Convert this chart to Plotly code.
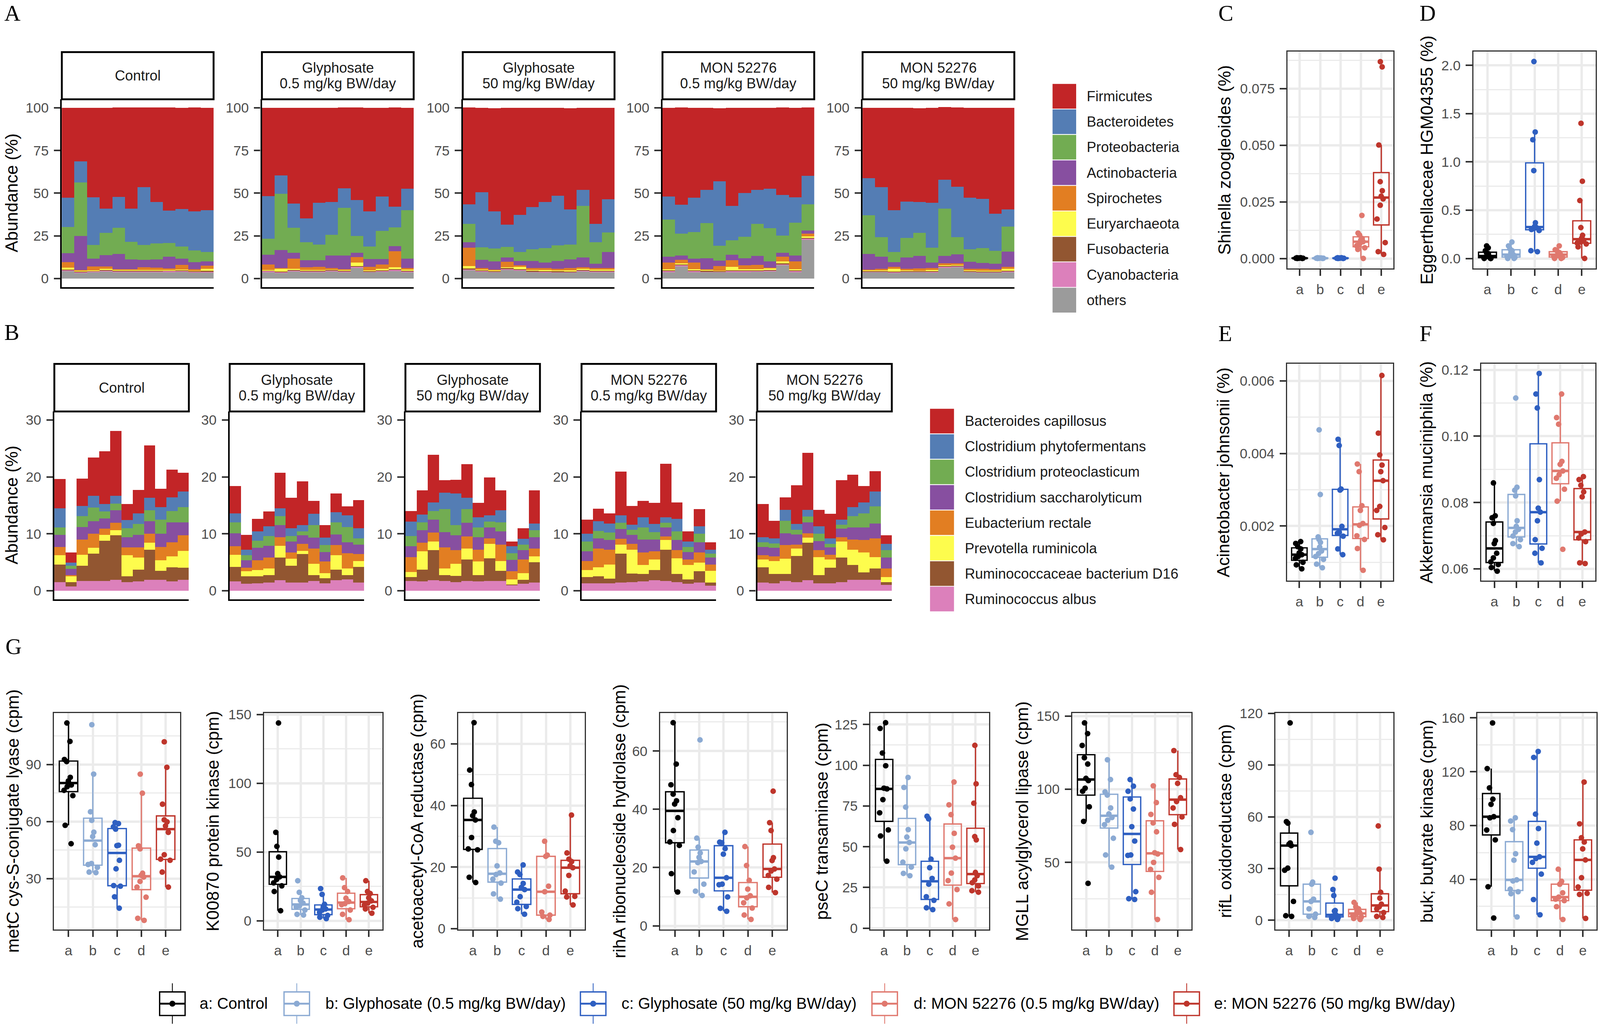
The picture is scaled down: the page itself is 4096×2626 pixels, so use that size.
import plotly.graph_objects as go

# ===================== DATA =====================
FACETS = ["Control", "Glyphosate|0.5 mg/kg BW/day", "Glyphosate|50 mg/kg BW/day",
          "MON 52276|0.5 mg/kg BW/day", "MON 52276|50 mg/kg BW/day"]
SAMPLES = list(range(1, 13))   # 12 animals per group

# ---- Panel A: phylum relative abundance (%), 5 groups x 12 samples ----
PHYLA = ["Firmicutes", "Bacteroidetes", "Proteobacteria", "Actinobacteria", "Spirochetes",
         "Euryarchaeota", "Fusobacteria", "Cyanobacteria", "others"]
firmicutes = [
    52.6, 31.5, 52.4, 58.9, 52.4, 59.3, 46.7, 55.4, 60.5, 59.2, 60.7, 60.1,
    51.8, 39.5, 56.0, 64.9, 55.6, 55.0, 47.3, 54.2, 60.5, 51.8, 58.0, 47.4,
    56.7, 49.4, 60.4, 68.4, 62.7, 58.1, 55.1, 51.5, 59.3, 48.1, 67.9, 53.7,
    52.0, 57.1, 52.6, 47.9, 42.9, 57.4, 50.0, 47.9, 47.4, 51.2, 52.4, 40.1,
    41.1, 46.4, 60.1, 54.8, 55.0, 55.7, 42.6, 46.4, 52.6, 53.2, 62.1, 59.5]
bacteroidetes = [
    17.3, 12.2, 28.0, 14.3, 18.1, 19.3, 33.7, 24.1, 19.0, 22.0, 23.0, 24.4,
    25.0, 10.7, 14.2, 13.9, 24.5, 19.4, 11.4, 21.2, 20.7, 20.2, 12.2, 12.5,
    11.4, 32.3, 21.8, 13.1, 21.6, 24.7, 27.1, 29.1, 20.7, 9.5, 10.8, 19.4,
    13.5, 16.9, 20.3, 19.6, 37.8, 20.2, 25.6, 20.0, 23.1, 23.8, 14.9, 16.7,
    21.8, 29.2, 24.4, 21.4, 18.0, 26.2, 16.9, 29.6, 30.1, 28.9, 21.8, 10.1]
proteobacteria = [
    15.2, 31.5, 7.9, 13.1, 15.2, 10.3, 8.9, 9.4, 8.0, 7.1, 6.8, 5.6,
    9.2, 33.1, 14.7, 10.5, 9.2, 12.1, 28.0, 9.7, 7.3, 16.5, 11.0, 28.4,
    10.8, 7.4, 7.7, 6.2, 5.4, 6.9, 8.6, 9.0, 8.6, 30.1, 12.5, 11.4,
    21.8, 12.7, 15.6, 20.6, 8.6, 8.4, 12.5, 18.8, 19.4, 10.1, 19.2, 15.5,
    22.6, 11.5, 6.0, 11.3, 13.5, 8.9, 27.8, 10.0, 7.5, 8.7, 7.4, 14.7]
actinobacteria = [
    5.4, 19.9, 4.6, 6.6, 8.9, 5.7, 4.2, 4.9, 6.8, 3.7, 4.1, 2.4,
    5.9, 10.5, 3.4, 4.2, 3.9, 7.3, 7.9, 2.6, 4.7, 3.2, 3.0, 5.4,
    3.2, 4.7, 4.7, 2.6, 2.6, 4.1, 3.2, 4.6, 5.0, 5.7, 2.6, 9.5,
    3.4, 2.6, 2.2, 6.3, 3.2, 3.3, 4.2, 5.2, 3.6, 2.4, 3.6, 1.7,
    9.1, 7.2, 2.7, 6.8, 7.5, 3.2, 4.4, 5.4, 4.1, 3.5, 3.3, 8.9]
spirochetes = [
    3.2, 0.3, 2.3, 1.4, 0.6, 0.6, 1.7, 1.4, 0.9, 2.6, 0.9, 1.8,
    3.1, 0.5, 6.0, 1.5, 1.8, 0.8, 0.6, 3.1, 2.0, 2.6, 9.3, 0.9,
    10.8, 1.1, 0.5, 3.1, 0.8, 1.1, 1.1, 0.9, 1.5, 1.0, 1.0, 0.9,
    3.9, 2.1, 3.9, 0.6, 2.7, 3.9, 2.3, 2.5, 0.5, 2.6, 4.5, 1.6,
    0.6, 0.9, 1.2, 0.9, 1.2, 1.0, 1.2, 0.9, 0.9, 1.2, 0.9, 1.1]
euryarchaeota = [
    1.1, 0.5, 0.3, 0.6, 0.3, 0.3, 0.3, 0.3, 0.3, 0.6, 0.3, 1.3,
    0.3, 1.5, 0.6, 0.5, 0.3, 0.3, 0.3, 2.1, 0.3, 0.8, 1.1, 0.7,
    1.3, 0.3, 0.4, 0.6, 1.3, 0.6, 0.6, 0.6, 0.6, 0.6, 0.6, 0.6,
    0.7, 0.6, 0.7, 0.5, 0.3, 2.1, 0.7, 0.7, 0.9, 1.3, 0.7, 0.9,
    0.3, 0.3, 1.5, 0.3, 0.3, 0.7, 0.3, 0.3, 0.3, 0.3, 0.3, 1.2]
fusobacteria = [
    0.5, 0.4, 0.5, 0.5, 0.4, 0.4, 0.5, 0.4, 0.5, 0.5, 0.4, 0.5,
    0.5, 0.5, 0.4, 0.5, 0.4, 0.5, 0.4, 0.6, 0.4, 0.5, 0.6, 0.4,
    0.6, 0.4, 0.4, 0.5, 0.5, 0.4, 0.5, 0.4, 0.4, 0.5, 0.4, 0.5,
    0.5, 0.6, 0.5, 0.4, 0.4, 0.5, 0.5, 0.4, 0.5, 0.6, 0.5, 0.6,
    0.4, 0.5, 0.5, 0.4, 0.4, 0.5, 0.6, 0.6, 0.4, 0.4, 0.4, 0.5]
cyanobacteria = [
    0.4, 0.5, 0.4, 0.3, 0.4, 0.4, 0.3, 0.4, 0.4, 0.3, 0.4, 0.4,
    0.4, 0.3, 0.4, 0.4, 0.4, 0.3, 0.4, 0.5, 0.4, 0.3, 0.4, 0.4,
    0.4, 0.4, 0.3, 0.4, 0.3, 0.4, 0.4, 0.4, 0.3, 0.4, 0.4, 0.4,
    0.4, 0.5, 0.4, 0.4, 0.3, 0.4, 0.4, 0.4, 0.3, 0.5, 0.4, 0.6,
    0.4, 0.3, 0.4, 0.4, 0.3, 0.4, 0.5, 0.5, 0.4, 0.3, 0.4, 0.4]
others = [
    4.3, 3.2, 3.6, 4.2, 3.8, 3.8, 3.8, 3.8, 3.8, 3.9, 3.5, 3.5,
    3.8, 3.3, 4.2, 3.6, 3.8, 4.2, 3.8, 6.2, 3.6, 4.0, 4.5, 3.8,
    4.9, 4.0, 3.6, 5.1, 4.7, 3.6, 3.4, 3.4, 3.4, 4.1, 3.7, 3.6,
    3.8, 7.1, 3.8, 3.6, 3.6, 3.8, 3.8, 4.0, 4.2, 7.7, 3.8, 22.6,
    3.6, 3.6, 3.2, 3.6, 3.6, 3.4, 6.2, 6.5, 3.6, 3.4, 3.4, 3.6]

# ---- Panel B: species relative abundance (%) ----
SPECIES = ["Bacteroides capillosus", "Clostridium phytofermentans", "Clostridium proteoclasticum",
           "Clostridium saccharolyticum", "Eubacterium rectale", "Prevotella ruminicola",
           "Ruminococcaceae bacterium D16", "Ruminococcus albus"]
b_capillosus = [
    5.1, 1.8, 4.8, 6.7, 9.3, 11.4, 2.8, 4.1, 9.2, 3.2, 4.9, 3.3,
    4.8, 2.6, 2.2, 2.6, 6.2, 5.3, 7.7, 2.3, 2.2, 3.3, 1.6, 4.9,
    1.9, 4.2, 8.4, 2.2, 2.4, 5.9, 2.5, 6.7, 3.5, 0.8, 1.9, 5.8,
    2.5, 2.2, 1.8, 7.7, 3.3, 2.9, 3.7, 9.4, 2.9, 1.8, 3.0, 1.3,
    5.8, 3.1, 2.2, 6.8, 10.0, 2.9, 4.3, 6.9, 5.7, 2.9, 3.6, 1.5]
c_phytofermentans = [
    3.4, 0.5, 1.8, 2.1, 1.3, 1.4, 1.4, 1.9, 2.2, 2.2, 2.4, 2.7,
    1.6, 1.0, 1.6, 1.7, 1.4, 1.4, 1.1, 2.0, 1.3, 1.8, 2.0, 1.8,
    2.5, 1.4, 1.5, 2.9, 5.6, 2.0, 1.8, 1.1, 2.1, 1.2, 1.0, 1.2,
    1.4, 1.7, 1.6, 1.3, 0.9, 1.8, 1.4, 1.0, 2.2, 0.9, 1.3, 0.7,
    0.9, 0.9, 1.9, 1.0, 1.2, 1.3, 1.0, 0.9, 1.6, 1.9, 2.6, 1.1]
c_proteoclasticum = [
    1.3, 0.6, 1.9, 2.4, 1.2, 1.2, 1.6, 1.9, 1.9, 2.5, 2.0, 2.7,
    1.9, 0.9, 1.3, 1.7, 1.6, 1.0, 0.7, 2.2, 1.2, 2.1, 2.7, 1.1,
    1.8, 1.4, 1.5, 4.0, 1.8, 2.4, 1.7, 1.0, 1.6, 1.2, 1.0, 1.2,
    1.7, 1.3, 1.3, 1.1, 0.9, 2.1, 1.3, 0.8, 1.5, 0.9, 1.5, 0.7,
    0.8, 0.8, 2.2, 0.8, 1.0, 1.3, 0.6, 0.7, 2.0, 2.5, 3.0, 1.3]
c_saccharolyticum = [
    2.1, 1.1, 2.2, 2.2, 1.8, 2.2, 1.8, 2.2, 2.2, 2.3, 3.5, 2.3,
    2.3, 1.3, 2.2, 2.1, 2.1, 1.9, 1.5, 1.9, 1.7, 1.9, 1.9, 1.7,
    1.9, 2.2, 2.3, 2.7, 2.6, 2.4, 2.2, 1.9, 2.3, 2.0, 1.6, 2.0,
    1.7, 1.8, 1.7, 1.7, 1.6, 2.3, 2.1, 1.6, 1.8, 1.3, 1.8, 1.2,
    1.5, 1.5, 2.1, 1.8, 1.9, 1.6, 1.3, 1.5, 2.1, 2.2, 2.6, 1.9]
e_rectale = [
    1.5, 0.2, 2.7, 2.5, 1.1, 1.3, 1.4, 1.8, 1.6, 2.4, 2.5, 2.7,
    1.5, 0.6, 1.7, 1.9, 1.5, 1.1, 1.2, 2.7, 2.0, 1.8, 2.7, 1.2,
    2.6, 1.5, 1.6, 3.7, 2.4, 2.1, 2.1, 1.0, 2.9, 1.4, 2.4, 1.4,
    1.6, 3.3, 2.6, 1.0, 1.0, 2.2, 1.4, 0.6, 1.4, 1.0, 1.8, 1.1,
    0.7, 0.8, 2.4, 0.7, 0.8, 1.2, 0.8, 0.8, 1.8, 2.2, 3.3, 1.5]
p_ruminicola = [
    1.6, 1.0, 1.9, 1.0, 1.0, 0.9, 3.7, 2.1, 1.2, 1.8, 1.9, 3.0,
    2.1, 0.9, 1.1, 1.2, 2.1, 1.2, 0.6, 2.0, 0.9, 2.5, 1.2, 1.0,
    0.9, 3.2, 1.5, 1.2, 2.1, 1.9, 2.4, 2.5, 1.7, 0.9, 1.2, 1.0,
    1.2, 1.6, 2.5, 1.6, 4.2, 1.6, 1.9, 1.7, 2.8, 2.5, 1.5, 2.1,
    1.4, 2.3, 2.7, 1.3, 0.9, 3.2, 1.5, 2.8, 2.7, 3.5, 2.0, 0.9]
rumino_d16 = [
    3.1, 0.8, 2.7, 4.8, 7.1, 7.8, 1.0, 2.1, 5.3, 1.6, 2.5, 2.1,
    2.6, 1.3, 1.2, 1.3, 4.0, 3.0, 5.0, 1.0, 0.9, 1.9, 0.7, 2.8,
    0.7, 2.1, 5.3, 1.0, 1.1, 3.8, 1.1, 4.0, 1.8, 0.1, 0.7, 3.6,
    1.1, 1.2, 0.8, 5.1, 1.5, 1.3, 1.8, 5.5, 1.4, 0.8, 2.0, 0.5,
    2.7, 1.6, 1.2, 4.6, 6.6, 1.4, 2.7, 4.3, 2.6, 1.3, 2.0, 0.5]
r_albus = [
    1.5, 0.7, 1.7, 1.7, 1.7, 1.9, 1.5, 1.6, 1.9, 1.9, 1.6, 1.9,
    1.6, 1.2, 1.3, 1.4, 1.8, 1.4, 1.4, 1.7, 1.3, 1.8, 2.0, 1.4,
    1.7, 1.6, 1.8, 1.7, 1.5, 1.7, 1.6, 1.7, 1.7, 1.0, 1.2, 1.4,
    1.3, 1.3, 1.3, 1.4, 1.5, 1.6, 1.8, 1.7, 1.5, 1.2, 1.4, 0.9,
    1.4, 1.3, 1.7, 1.5, 1.8, 1.3, 1.3, 1.5, 1.9, 1.9, 1.9, 1.0]

# ---- Boxplot panels: groups a-e ----
GROUPS = ["a", "b", "c", "d", "e"]
GROUP_LABELS = ["a: Control", "b: Glyphosate (0.5 mg/kg BW/day)", "c: Glyphosate (50 mg/kg BW/day)",
                "d: MON 52276 (0.5 mg/kg BW/day)", "e: MON 52276 (50 mg/kg BW/day)"]
shinella = {
    "a": [0.0003, 0.0002, 0.0001, 0.0002, 0.0, 0.0001, 0.0003, 0.0001, 0.0002, 0.0, 0.0001],
    "b": [0.0002, 0.0001, 0.0003, 0.0, 0.0001, 0.0002, 0.0001, 0.0, 0.0002, 0.0001],
    "c": [0.0001, 0.0002, 0.0, 0.0003, 0.0001, 0.0002, 0.0, 0.0001, 0.0002, 0.0001, 0.0003],
    "d": [0.019, 0.0112, 0.0103, 0.0088, 0.0081, 0.0074, 0.0065, 0.0056, 0.0047, 0.0040, 0.0],
    "e": [0.0869, 0.0846, 0.0501, 0.0339, 0.0299, 0.0275, 0.0263, 0.0235, 0.0174, 0.007, 0.003, 0.0018]}
eggerthellaceae = {
    "a": [0.13, 0.11, 0.08, 0.06, 0.05, 0.03, 0.02, 0.01, 0.0, 0.0, 0.0, 0.02],
    "b": [0.17, 0.13, 0.10, 0.08, 0.06, 0.04, 0.03, 0.02, 0.0, 0.0, 0.01],
    "c": [2.04, 1.31, 1.23, 0.91, 0.37, 0.33, 0.32, 0.31, 0.30, 0.29, 0.08, 0.07],
    "d": [0.13, 0.09, 0.08, 0.06, 0.05, 0.04, 0.03, 0.02, 0.01, 0.0, 0.0],
    "e": [1.40, 0.80, 0.60, 0.32, 0.24, 0.21, 0.19, 0.17, 0.16, 0.15, 0.12, 0.0]}
acinetobacter = {
    "a": [0.00157, 0.00152, 0.00143, 0.00137, 0.00126, 0.00121, 0.00116, 0.00111, 0.00100, 0.00093, 0.00082],
    "b": [0.00465, 0.00287, 0.00170, 0.00163, 0.00155, 0.00142, 0.00131, 0.00124, 0.00116, 0.00108, 0.00095, 0.00085],
    "c": [0.00439, 0.00422, 0.00302, 0.00299, 0.00199, 0.00183, 0.00180, 0.00172, 0.00137, 0.00121],
    "d": [0.00371, 0.00350, 0.00256, 0.00243, 0.00207, 0.00202, 0.00173, 0.00163, 0.00138, 0.00078],
    "e": [0.00615, 0.00456, 0.00396, 0.00368, 0.00350, 0.00325, 0.00254, 0.00243, 0.00196, 0.00176, 0.00162]}
akkermansia = {
    "a": [0.0859, 0.0760, 0.0754, 0.0737, 0.0685, 0.0676, 0.0647, 0.0633, 0.0621, 0.0613, 0.0604, 0.0593],
    "b": [0.1115, 0.0846, 0.0837, 0.0820, 0.0745, 0.0728, 0.0719, 0.0711, 0.0699, 0.0688, 0.0676, 0.0667],
    "c": [0.1189, 0.1127, 0.1085, 0.0869, 0.0783, 0.0771, 0.0745, 0.0688, 0.0662, 0.0647, 0.0618],
    "d": [0.1127, 0.1056, 0.1036, 0.0924, 0.0915, 0.0895, 0.0884, 0.0873, 0.0840, 0.0804, 0.0659],
    "e": [0.0878, 0.0869, 0.0852, 0.0832, 0.0817, 0.0711, 0.0705, 0.0693, 0.0682, 0.0618, 0.0616]}
metC = {
    "a": [111.8, 102.1, 92.6, 91.5, 83.2, 81.3, 79.2, 78.3, 76.4, 73.6, 58.0, 48.3],
    "b": [110.9, 84.9, 65.1, 60.6, 54.4, 52.1, 47.8, 37.9, 37.4, 35.9, 33.4, 33.1],
    "c": [59.4, 58.9, 57.2, 56.0, 47.5, 47.3, 39.6, 35.1, 26.3, 26.0, 20.4, 14.4],
    "d": [84.9, 74.9, 47.2, 45.6, 32.8, 31.7, 30.8, 28.5, 25.5, 20.2, 9.1, 8.0],
    "e": [101.9, 88.5, 69.1, 60.9, 59.8, 57.7, 54.3, 42.5, 40.2, 39.6, 33.4, 25.5]}
k00870 = {
    "a": [143.8, 64.3, 54.1, 46.3, 34.3, 31.9, 30.1, 27.6, 25.4, 21.3, 7.3],
    "b": [29.1, 20.7, 16.7, 14.8, 12.9, 10.9, 10.1, 7.8, 4.7, 4.2],
    "c": [23.4, 19.2, 12.0, 10.1, 8.6, 7.8, 6.2, 3.9, 2.6, 1.6],
    "d": [31.2, 24.1, 21.3, 16.4, 14.0, 12.5, 11.7, 7.8, 4.7, 0.8],
    "e": [29.1, 21.3, 19.8, 16.7, 14.5, 12.9, 11.4, 9.8, 8.6, 5.5]}
acetoacetyl = {
    "a": [66.9, 51.5, 46.8, 37.9, 36.7, 35.3, 29.6, 25.9, 25.6, 16.7, 15.0],
    "b": [33.0, 28.4, 27.9, 20.4, 18.1, 17.6, 16.1, 14.8, 11.3, 9.6],
    "c": [20.7, 18.4, 17.6, 14.7, 13.4, 12.7, 10.4, 8.6, 7.2, 6.5, 4.7],
    "d": [28.4, 23.9, 23.5, 13.8, 12.0, 5.4, 4.4, 4.0, 3.0],
    "e": [36.9, 24.6, 22.6, 21.8, 20.4, 19.8, 17.3, 12.2, 10.5, 10.3, 7.7]}
rihA = {
    "a": [69.7, 55.5, 48.4, 45.2, 42.9, 41.8, 37.1, 32.7, 28.8, 27.6, 17.9, 11.6],
    "b": [63.8, 30.1, 27.0, 25.0, 23.5, 22.1, 21.7, 18.5, 14.3, 11.9, 10.4],
    "c": [32.1, 28.7, 28.5, 26.5, 24.6, 16.5, 14.3, 14.1, 9.9, 6.0, 5.0],
    "d": [27.2, 20.7, 15.6, 12.6, 10.3, 9.6, 7.9, 6.1, 3.7, 2.2],
    "e": [46.2, 35.4, 32.7, 23.4, 22.4, 19.5, 18.8, 17.3, 16.0, 13.2, 11.4]}
pseC = {
    "a": [126.1, 122.6, 107.5, 99.7, 85.9, 85.5, 78.9, 70.8, 60.3, 56.6, 41.1],
    "b": [92.5, 86.4, 74.3, 60.5, 55.9, 52.6, 48.7, 40.5, 37.5, 33.6, 32.2],
    "c": [68.7, 67.1, 42.4, 37.1, 30.5, 27.0, 19.3, 17.1, 12.5, 11.4],
    "d": [89.7, 75.7, 69.7, 58.2, 49.7, 43.0, 33.8, 29.2, 23.7, 14.9, 5.3],
    "e": [112.2, 88.6, 76.7, 56.2, 54.2, 34.2, 32.2, 29.6, 27.9, 25.9, 23.0, 22.1]}
mgll = {
    "a": [145.3, 138.0, 129.9, 121.5, 117.2, 107.4, 105.9, 100.7, 98.6, 88.0, 78.0, 35.7],
    "b": [120.1, 106.6, 98.2, 96.0, 87.2, 83.1, 80.7, 78.8, 75.8, 66.5, 55.1, 46.8],
    "c": [106.6, 102.1, 98.6, 93.4, 86.5, 74.4, 64.6, 55.1, 54.8, 30.0, 25.2, 24.7],
    "d": [102.3, 90.9, 82.8, 77.0, 70.9, 56.6, 55.8, 50.0, 45.2, 39.8, 29.6, 11.0],
    "e": [126.4, 109.9, 108.0, 104.0, 94.2, 91.6, 87.2, 81.1, 76.0, 58.8]}
rifL = {
    "a": [114.5, 57.2, 56.3, 44.8, 44.1, 43.3, 30.2, 29.0, 10.9, 2.6, 2.2],
    "b": [51.0, 22.1, 20.9, 12.2, 10.9, 6.6, 3.5, 2.2, 1.6],
    "c": [24.4, 17.8, 14.3, 5.6, 5.3, 3.1, 2.5, 2.2, 1.6, 1.0, 0.4],
    "d": [10.3, 7.8, 6.6, 5.3, 4.4, 3.5, 2.6, 1.9, 1.0, 0.4],
    "e": [54.7, 29.6, 16.2, 12.8, 9.3, 7.8, 6.6, 4.4, 2.2, 1.6]}
buk = {
    "a": [156.2, 122.3, 108.0, 99.6, 95.8, 86.6, 85.8, 76.7, 69.4, 34.6, 11.4],
    "b": [85.8, 83.4, 77.0, 59.1, 54.3, 39.7, 38.9, 32.8, 30.9, 29.4, 12.2],
    "c": [135.0, 130.6, 88.5, 77.8, 67.0, 56.8, 55.6, 52.7, 44.0, 25.1, 13.8],
    "d": [47.6, 38.6, 36.5, 30.1, 26.9, 25.4, 24.3, 19.8, 10.3],
    "e": [112.3, 81.3, 71.0, 67.8, 62.7, 54.5, 41.3, 34.4, 29.7, 28.9, 11.1]}

# ===================== STYLE / GEOMETRY =====================
W, H = 4096, 2626
RW, RH = 4270, 2738
S = W / RW
FONT = "Liberation Sans, Arial, Helvetica, sans-serif"
SERIF = "Liberation Serif, Times New Roman, serif"
TAXA_COLORS = ["#C22527", "#547DB4", "#72AC52", "#874FA0", "#E27E22", "#FDFC4D", "#925631", "#DC80BB", "#9B9B9B"]
GROUP_COLORS = ["#000000", "#8BAAD3", "#2E5FC1", "#E0786E", "#BE352B"]
TICK_COL, TEXT_COL, GRID_COL, BORDER_COL = "#333333", "#4D4D4D", "#EBEBEB", "#333333"
CLEAR = "rgba(255,255,255,0)"


def fx(x): return x / RW
def fy(y): return 1 - y / RH
def sz(v): return v * S
def ax_key(kind, n): return f"{kind}axis" + ("" if n == 1 else str(n))
def ax_id(kind, n): return kind + ("" if n == 1 else str(n))


def quantile7(vals, p):
    """R type-7 quantile (as used by ggplot2's boxplot stat)."""
    s = sorted(vals)
    h = (len(s) - 1) * p
    lo = int(h)
    hi = min(lo + 1, len(s) - 1)
    return s[lo] + (h - lo) * (s[hi] - s[lo])


fig = go.Figure()
annotations, shapes = [], []
layout = dict(width=W, height=H, margin=dict(l=0, r=0, t=0, b=0, pad=0), autosize=False,
              paper_bgcolor="white", plot_bgcolor="white",
              barmode="stack", bargap=0, boxmode="overlay", showlegend=False,
              font=dict(family=FONT, color="#000000"))


def text(x, y, s, size, color="#1A1A1A", xanchor="center", yanchor="middle", angle=0, family=FONT, yabs=None):
    annotations.append(dict(x=fx(x), y=fy(y) if yabs is None else yabs, xref="paper", yref="paper", text=s,
                            showarrow=False, font=dict(size=sz(size), color=color, family=family),
                            xanchor=xanchor, yanchor=yanchor, textangle=angle))


def rect(x0, y0, x1, y1, fill="rgba(0,0,0,0)", line="rgba(0,0,0,0)", lw=0):
    shapes.append(dict(type="rect", xref="paper", yref="paper", x0=fx(x0), x1=fx(x1), y0=fy(y1), y1=fy(y0),
                       fillcolor=fill, line=dict(color=line, width=sz(lw)), layer="above"))


def seg(x0, y0, x1, y1, color, lw):
    shapes.append(dict(type="line", xref="paper", yref="paper", x0=fx(x0), x1=fx(x1), y0=fy(y0), y1=fy(y1),
                       line=dict(color=color, width=sz(lw)), layer="above"))


# ---------- stacked bar facets (A and B) ----------
def facet_row(first_n, xs, w, strip_top, strip_bot, panel_bot, yrange, yticks, series, colors):
    for f, x0 in enumerate(xs):
        n = first_n + f
        layout[ax_key("x", n)] = dict(domain=[fx(x0), fx(x0 + w)], range=[0.5, 12.5], anchor=ax_id("y", n),
                                      showticklabels=False, ticks="", showgrid=False, zeroline=False,
                                      showline=True, linecolor="black", linewidth=sz(4.5), automargin=False)
        layout[ax_key("y", n)] = dict(domain=[fy(panel_bot), fy(strip_bot)], range=yrange, anchor=ax_id("x", n),
                                      tickvals=yticks, ticks="outside", ticklen=sz(17), tickwidth=sz(4.5),
                                      tickcolor=TICK_COL, tickfont=dict(size=sz(37), color=TEXT_COL),
                                      ticklabelstandoff=6, automargin=False,
                                      showline=True, linecolor="black", linewidth=sz(4.5),
                                      showgrid=False, zeroline=False)
        # bottom-most taxon first so it stacks at the bottom
        for vals, col in list(zip(series, colors))[::-1]:
            fig.add_trace(go.Bar(x=SAMPLES, y=vals[f * 12:(f + 1) * 12], width=1,
                                 marker=dict(color=col, line=dict(width=0)),
                                 xaxis=ax_id("x", n), yaxis=ax_id("y", n), showlegend=False,
                                 hoverinfo="skip"))
        # strip
        rect(x0, strip_top, x0 + w, strip_bot, fill="white", line="black", lw=5)
        parts = FACETS[f].split("|")
        mid = (strip_top + strip_bot) / 2
        if len(parts) == 1:
            text(x0 + w / 2, mid, parts[0], 38)
        else:
            text(x0 + w / 2, mid - 21, parts[0], 38)
            text(x0 + w / 2, mid + 21, parts[1], 38)


A_SERIES = [firmicutes, bacteroidetes, proteobacteria, actinobacteria, spirochetes,
            euryarchaeota, fusobacteria, cyanobacteria, others]
B_SERIES = [b_capillosus, c_phytofermentans, c_proteoclasticum, c_saccharolyticum,
            e_rectale, p_ruminicola, rumino_d16, r_albus]

facet_row(1, [165, 699, 1235, 1768, 2302], 405, 139, 265, 766, [-5, 105], [0, 25, 50, 75, 100],
          A_SERIES, TAXA_COLORS)
facet_row(6, [145, 613, 1082, 1552, 2021], 359, 971, 1098, 1599, [-1.5, 31.5], [0, 10, 20, 30],
          B_SERIES, TAXA_COLORS[:8])

text(31, 515, "Abundance (%)", 46, color="#000000", angle=-90)
text(31, 1348, "Abundance (%)", 46, color="#000000", angle=-90)

# legends A and B (drawn keys)
for i, (name, col) in enumerate(zip(PHYLA, TAXA_COLORS)):
    y0 = 223 + 68 * i
    rect(2808, y0, 2873, y0 + 68, fill=col, line="white", lw=2)
    text(2898, y0 + 34, name, 38, xanchor="left")
for i, (name, col) in enumerate(zip(SPECIES, TAXA_COLORS[:8])):
    y0 = 1090 + 67.8 * i
    rect(2481, y0, 2547, y0 + 67.8, fill=col, line="white", lw=2)
    text(2573, y0 + 33.9, name, 38, xanchor="left")


# ---------- boxplot panels ----------
def box_panel(n, x0, x1, y0, y1, yrange, dtick, fmt, data, title, title_x):
    layout[ax_key("x", n)] = dict(domain=[fx(x0), fx(x1)], type="category", categoryorder="array",
                                  categoryarray=GROUPS, range=[-0.6, 4.6], anchor=ax_id("y", n),
                                  ticks="outside", ticklen=sz(17), tickwidth=sz(4.5), tickcolor=TICK_COL,
                                  tickfont=dict(size=sz(37), color=TEXT_COL), ticklabelstandoff=4,
                                  showgrid=True, gridcolor=GRID_COL, gridwidth=sz(6.5), automargin=False,
                                  showline=True, mirror=True, linecolor=BORDER_COL, linewidth=sz(3.5),
                                  zeroline=False)
    layout[ax_key("y", n)] = dict(domain=[fy(y1), fy(y0)], range=yrange, anchor=ax_id("x", n),
                                  tick0=0, dtick=dtick, tickformat=fmt, ticks="outside", ticklen=sz(17),
                                  tickwidth=sz(4.5), tickcolor=TICK_COL, ticklabelstandoff=6,
                                  tickfont=dict(size=sz(37), color=TEXT_COL), automargin=False,
                                  showgrid=True, gridcolor=GRID_COL, gridwidth=sz(6.5),
                                  minor=dict(tick0=0, dtick=dtick / 2, showgrid=True, gridcolor=GRID_COL,
                                             gridwidth=sz(3.2), ticks=""),
                                  showline=True, mirror=True, linecolor=BORDER_COL, linewidth=sz(3.5),
                                  zeroline=False)
    axes = dict(xaxis=ax_id("x", n), yaxis=ax_id("y", n), showlegend=False, hoverinfo="skip")
    for g, col in zip(GROUPS, GROUP_COLORS):
        vals = data[g]
        q1, med, q3 = quantile7(vals, 0.25), quantile7(vals, 0.5), quantile7(vals, 0.75)
        iqr = q3 - q1
        lo = min(v for v in vals if v >= q1 - 1.5 * iqr)
        hi = max(v for v in vals if v <= q3 + 1.5 * iqr)
        # box + whiskers (ggplot-style statistics)
        fig.add_trace(go.Box(x=[g], q1=[q1], median=[med], q3=[q3], lowerfence=[lo], upperfence=[hi],
                             boxpoints=False, width=0.76, whiskerwidth=0, fillcolor=CLEAR,
                             line=dict(color=col, width=sz(3.5)), **axes))
        # thicker median bar
        fig.add_trace(go.Box(x=[g], q1=[med], median=[med], q3=[med], lowerfence=[med], upperfence=[med],
                             boxpoints=False, width=0.74, whiskerwidth=0, fillcolor=CLEAR,
                             line=dict(color=col, width=sz(6.5)), **axes))
        # jittered sample points
        fig.add_trace(go.Box(x=[g] * len(vals), y=vals, boxpoints="all", jitter=0.65, pointpos=0,
                             width=0.76, whiskerwidth=0, fillcolor=CLEAR,
                             line=dict(color=CLEAR, width=0),
                             marker=dict(color=col, size=sz(15), opacity=1, line=dict(width=0)), **axes))
    text(title_x, (y0 + y1) / 2, title, 46, color="#000000", angle=-90)


box_panel(11, 3436, 3719, 138, 716, [-0.00435, 0.0913], 0.025, ".3f", shinella,
          "Shinella zoogleoides (%)", 3268)
box_panel(12, 3932, 4259, 138, 716, [-0.102, 2.142], 0.5, ".1f", eggerthellaceae,
          "Eggerthellaceae HGM04355 (%)", 3808)
box_panel(13, 3435, 3718, 971, 1549, [0.0005, 0.00647], 0.002, ".3f", acinetobacter,
          "Acinetobacter johnsonii (%)", 3265)
box_panel(14, 3953, 4258, 971, 1549, [0.0565, 0.1218], 0.02, ".2f", akkermansia,
          "Akkermansia muciniphila (%)", 3807)

G_SPECS = [
    (144, 481, [3.3, 117], 30, metC, "metC cys-S-conjugate lyase (cpm)", 34),
    (705, 1021, [-6.2, 151], 50, k00870, "K00870 protein kinase (cpm)", 568),
    (1223, 1561, [-0.2, 70], 20, acetoacetyl, "acetoacetyl-CoA reductase (cpm)", 1113),
    (1762, 2100, [-1.2, 73], 20, rihA, "rihA ribonucleoside hydrolase (cpm)", 1653),
    (2323, 2640, [-0.7, 132], 25, pseC, "pseC transaminase (cpm)", 2193),
    (2862, 3180, [4.3, 152], 50, mgll, "MGLL acylglycerol lipase (cpm)", 2728),
    (3404, 3719, [-5.3, 120.2], 30, rifL, "rifL oxidoreductase (cpm)", 3270),
    (3943, 4261, [3.0, 163.5], 40, buk, "buk; butyrate kinase (cpm)", 3808),
]
for k, (x0, x1, yr, dt, data, title, tx) in enumerate(G_SPECS):
    box_panel(15 + k, x0, x1, 1903, 2480, yr, dt, "d", data, title, tx)

# ---------- bottom legend for groups ----------
LEG_CX = [460, 792, 1583, 2361, 3167]
LEG_TX = [531, 866, 1657, 2436, 3238]
for cx, tx, lab, col in zip(LEG_CX, LEG_TX, GROUP_LABELS, GROUP_COLORS):
    seg(cx, 2624, cx, 2647, col, 2.2)
    seg(cx, 2710, cx, 2732, col, 2.2)
    rect(cx - 34, 2647, cx + 34, 2710, fill="white", line=col, lw=3.5)
    seg(cx - 34, 2678.5, cx + 34, 2678.5, col, 5)
    shapes.append(dict(type="circle", xref="paper", yref="paper", x0=fx(cx - 8), x1=fx(cx + 8),
                       y0=fy(2686.5), y1=fy(2670.5), fillcolor=col, line=dict(width=0), layer="above"))
    text(tx, 2678, lab, 42, color="#000000", xanchor="left")

# ---------- panel letters ----------
for letter, x in [("A", 9), ("C", 3249), ("D", 3786)]:
    text(x, 0, letter, 60, color="#000000", xanchor="left", yanchor="top", family=SERIF, yabs=1.0)
for letter, x, y in [("B", 9, 887), ("E", 3249, 890), ("F", 3786, 890), ("G", 13, 1725)]:
    text(x, y, letter, 60, color="#000000", xanchor="left", family=SERIF)

layout["annotations"] = annotations
layout["shapes"] = shapes
fig.update_layout(**layout)
fig.write_html("out.html", config={"displayModeBar": False},
               post_script="document.body.style.margin='0';document.body.style.padding='0';"
                           "document.documentElement.style.margin='0';")
